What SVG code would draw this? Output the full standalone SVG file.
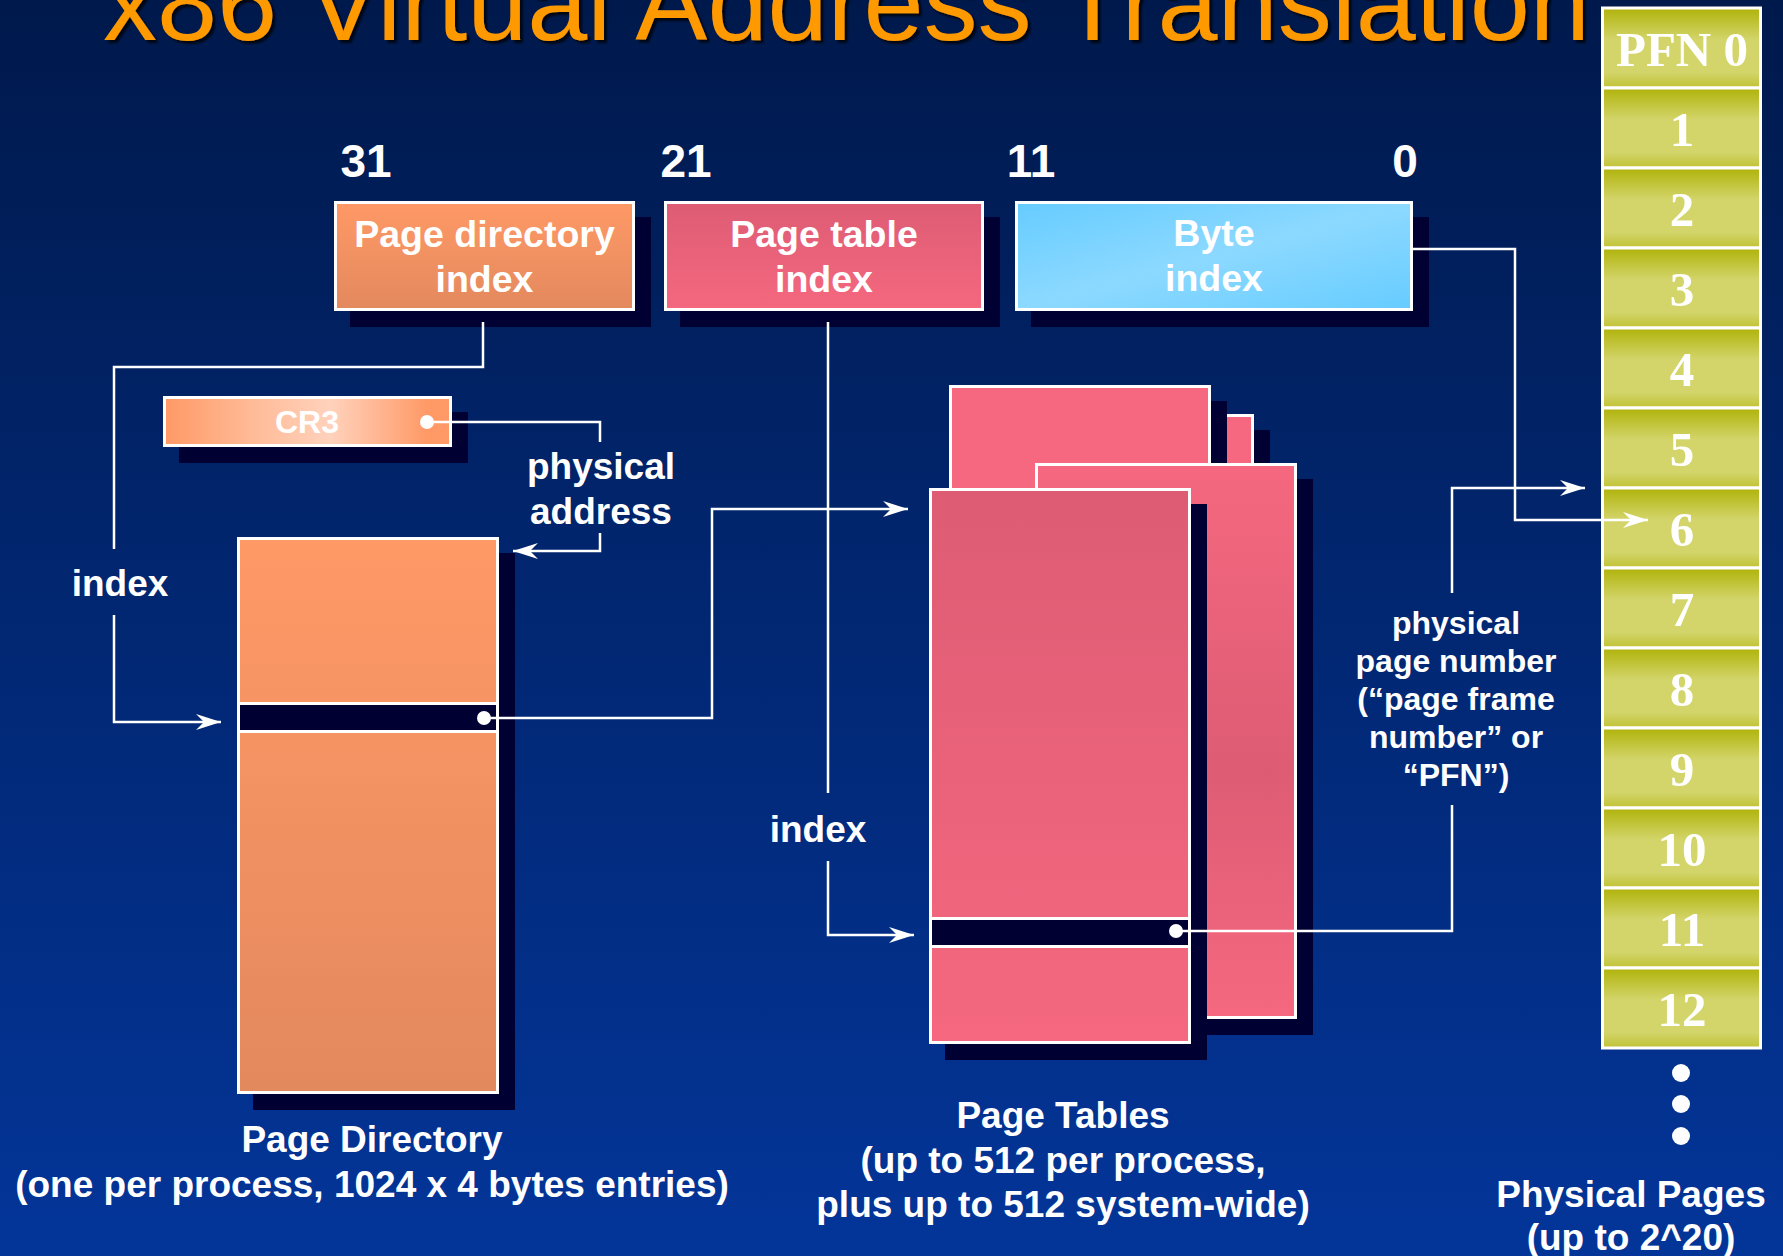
<svg xmlns="http://www.w3.org/2000/svg" width="1783" height="1256" viewBox="0 0 1783 1256">
  <defs>
    <linearGradient id="bg" x1="0" y1="0" x2="0" y2="1">
      <stop offset="0" stop-color="#00194C"/>
      <stop offset="1" stop-color="#033599"/>
    </linearGradient>
    <linearGradient id="orange" x1="0" y1="0" x2="0" y2="1">
      <stop offset="0" stop-color="#FF9966"/>
      <stop offset="1" stop-color="#E3895E"/>
    </linearGradient>
    <linearGradient id="cr3" x1="0" y1="0" x2="1" y2="0">
      <stop offset="0" stop-color="#FF9966"/>
      <stop offset="0.3" stop-color="#FFBA96"/>
      <stop offset="0.58" stop-color="#FFD2BC"/>
      <stop offset="0.92" stop-color="#FF9966"/>
      <stop offset="1" stop-color="#FF9966"/>
    </linearGradient>
    <linearGradient id="pinkUp" x1="0" y1="0" x2="0" y2="1">
      <stop offset="0" stop-color="#DD5C74"/>
      <stop offset="1" stop-color="#F5687F"/>
    </linearGradient>
    <linearGradient id="pinkMid" x1="0" y1="0" x2="0" y2="1">
      <stop offset="0" stop-color="#F5687F"/>
      <stop offset="0.55" stop-color="#DD5C74"/>
      <stop offset="1" stop-color="#F5687F"/>
    </linearGradient>
    <linearGradient id="blue" x1="0" y1="0" x2="1" y2="1">
      <stop offset="0" stop-color="#66CCFF"/>
      <stop offset="0.5" stop-color="#8CD9FF"/>
      <stop offset="1" stop-color="#66CCFF"/>
    </linearGradient>
    <linearGradient id="olive" x1="0" y1="0" x2="0" y2="1">
      <stop offset="0" stop-color="#B0B30A"/>
      <stop offset="0.4" stop-color="#D3D56B"/>
      <stop offset="0.8" stop-color="#D3D56B"/>
      <stop offset="1" stop-color="#C0C236"/>
    </linearGradient>
    <filter id="titleShadow" x="-5%" y="-20%" width="110%" height="140%">
      <feDropShadow dx="3" dy="3" stdDeviation="1" flood-color="#000000" flood-opacity="0.75"/>
    </filter>
    <marker id="arrow" viewBox="-26 -9 27 18" refX="0" refY="0" markerWidth="27" markerHeight="18" markerUnits="userSpaceOnUse" orient="auto">
      <path d="M0 0 L-25 -8 L-17 0 L-25 8 Z" fill="#FFFFFF"/>
    </marker>
    <style>
      .shadow { fill: #000033; stroke: #000033; stroke-width: 3; }
      .box { stroke: #FFFFFF; stroke-width: 3; }
      .band { fill: #000033; stroke: #FFFFFF; stroke-width: 3; }
      .lbl { font-family: "Liberation Sans", Arial, sans-serif; font-weight: bold; fill: #FFFFFF; text-anchor: middle; }
      .pfn { font-family: "Liberation Serif", "Times New Roman", serif; font-weight: bold; font-size: 49px; fill: #FFFFFF; text-anchor: middle; }
      .cell { fill: url(#olive); stroke: #FFFFFF; stroke-width: 3; }
      .wire { fill: none; stroke: #FFFFFF; stroke-width: 2.5; }
      .arr { marker-end: url(#arrow); }
      .dot { fill: #FFFFFF; }
    </style>
  </defs>

  <rect x="0" y="0" width="1783" height="1256" fill="url(#bg)"/>

  <text x="103" y="40" font-family="Liberation Sans, Arial, sans-serif" font-size="108" fill="#FF9900" filter="url(#titleShadow)">x86 Virtual Address Translation</text>

  <!-- bit positions -->
  <g id="bits" class="lbl" font-size="46">
    <text x="366" y="177">31</text>
    <text x="686" y="177">21</text>
    <text x="1031" y="177">11</text>
    <text x="1405" y="177">0</text>
  </g>

  <!-- virtual address fields -->
  <g id="pd-index">
    <rect class="shadow" x="351.5" y="218.5" width="298" height="107"/>
    <rect class="box" x="335.5" y="202.5" width="298" height="107" fill="url(#orange)"/>
    <text class="lbl" font-size="37.5" x="484.5" y="247">Page directory</text>
    <text class="lbl" font-size="37.5" x="484.5" y="292">index</text>
  </g>
  <g id="pt-index">
    <rect class="shadow" x="681.5" y="218.5" width="317" height="107"/>
    <rect class="box" x="665.5" y="202.5" width="317" height="107" fill="url(#pinkUp)"/>
    <text class="lbl" font-size="37.5" x="824" y="247">Page table</text>
    <text class="lbl" font-size="37.5" x="824" y="292">index</text>
  </g>
  <g id="byte-index">
    <rect class="shadow" x="1032.5" y="218.5" width="395" height="107"/>
    <rect class="box" x="1016.5" y="202.5" width="395" height="107" fill="url(#blue)"/>
    <text class="lbl" font-size="37.5" x="1214" y="246">Byte</text>
    <text class="lbl" font-size="37.5" x="1214" y="291">index</text>
  </g>

  <!-- CR3 register -->
  <g id="cr3-reg">
    <rect class="shadow" x="180.5" y="413.5" width="286" height="48"/>
    <rect class="box" x="164.5" y="397.5" width="286" height="48" fill="url(#cr3)"/>
    <text class="lbl" font-size="32" x="307" y="433">CR3</text>
  </g>

  <!-- page directory -->
  <g id="page-directory">
    <rect class="shadow" x="254.5" y="554.5" width="259" height="554"/>
    <rect class="box" x="238.5" y="538.5" width="259" height="554" fill="url(#orange)"/>
    <rect class="band" x="238.5" y="703.5" width="259" height="28"/>
    <text class="lbl" font-size="37" x="372" y="1152">Page Directory</text>
    <text class="lbl" font-size="37" x="372" y="1197">(one per process, 1024 x 4 bytes entries)</text>
  </g>

  <!-- page tables, back to front -->
  <g id="page-tables">
    <rect class="shadow" x="1009.5" y="431.5" width="259" height="553"/>
    <rect class="box" x="993.5" y="415.5" width="259" height="553" fill="#F5687F"/>
    <rect class="shadow" x="966.5" y="402.5" width="259" height="553"/>
    <rect class="box" x="950.5" y="386.5" width="259" height="553" fill="#F5687F"/>
    <rect class="shadow" x="1052.5" y="480.5" width="259" height="553"/>
    <rect class="box" x="1036.5" y="464.5" width="259" height="553" fill="url(#pinkMid)"/>
    <rect class="shadow" x="946.5" y="505.5" width="259" height="553"/>
    <rect class="box" x="930.5" y="489.5" width="259" height="553" fill="url(#pinkUp)"/>
    <rect class="band" x="930.5" y="918.5" width="259" height="28"/>
    <text class="lbl" font-size="37" x="1063" y="1128">Page Tables</text>
    <text class="lbl" font-size="37" x="1063" y="1173">(up to 512 per process,</text>
    <text class="lbl" font-size="37" x="1063" y="1217">plus up to 512 system-wide)</text>
  </g>

  <!-- physical page frames -->
  <g id="physical-pages">
    <rect class="cell" x="1602.5" y="8" width="158" height="80"/>
    <rect class="cell" x="1602.5" y="88" width="158" height="80"/>
    <rect class="cell" x="1602.5" y="168" width="158" height="80"/>
    <rect class="cell" x="1602.5" y="248" width="158" height="80"/>
    <rect class="cell" x="1602.5" y="328" width="158" height="80"/>
    <rect class="cell" x="1602.5" y="408" width="158" height="80"/>
    <rect class="cell" x="1602.5" y="488" width="158" height="80"/>
    <rect class="cell" x="1602.5" y="568" width="158" height="80"/>
    <rect class="cell" x="1602.5" y="648" width="158" height="80"/>
    <rect class="cell" x="1602.5" y="728" width="158" height="80"/>
    <rect class="cell" x="1602.5" y="808" width="158" height="80"/>
    <rect class="cell" x="1602.5" y="888" width="158" height="80"/>
    <rect class="cell" x="1602.5" y="968" width="158" height="80"/>
    <text class="pfn" x="1682" y="66">PFN 0</text>
    <text class="pfn" x="1682" y="146">1</text>
    <text class="pfn" x="1682" y="226">2</text>
    <text class="pfn" x="1682" y="306">3</text>
    <text class="pfn" x="1682" y="386">4</text>
    <text class="pfn" x="1682" y="466">5</text>
    <text class="pfn" x="1682" y="546">6</text>
    <text class="pfn" x="1682" y="626">7</text>
    <text class="pfn" x="1682" y="706">8</text>
    <text class="pfn" x="1682" y="786">9</text>
    <text class="pfn" x="1682" y="866">10</text>
    <text class="pfn" x="1682" y="946">11</text>
    <text class="pfn" x="1682" y="1026">12</text>
    <circle class="dot" cx="1681" cy="1073" r="9"/>
    <circle class="dot" cx="1681" cy="1104" r="9"/>
    <circle class="dot" cx="1681" cy="1136" r="9"/>
    <text class="lbl" font-size="37" x="1631" y="1207">Physical Pages</text>
    <text class="lbl" font-size="37" x="1631" y="1250">(up to 2^20)</text>
  </g>

  <!-- connectors -->
  <g id="connectors">
    <path class="wire" d="M483 322 V367 H114 V549"/>
    <path class="wire arr" d="M114 615 V722 H221"/>
    <text class="lbl" font-size="37" x="120" y="596">index</text>

    <circle class="dot" cx="427" cy="422" r="7"/>
    <path class="wire" d="M427 422 H600 V442"/>
    <path class="wire arr" d="M600 533 V551 H513"/>
    <text class="lbl" font-size="37" x="601" y="479">physical</text>
    <text class="lbl" font-size="37" x="601" y="524">address</text>

    <circle class="dot" cx="484" cy="718" r="7"/>
    <path class="wire arr" d="M484 718 H712 V509 H908"/>

    <path class="wire" d="M828 322 V793"/>
    <path class="wire arr" d="M828 861 V935 H914"/>
    <text class="lbl" font-size="37" x="818" y="842">index</text>

    <circle class="dot" cx="1176" cy="931" r="7"/>
    <path class="wire" d="M1176 931 H1452 V805"/>
    <path class="wire arr" d="M1452 593 V488 H1585"/>
    <text class="lbl" font-size="32" x="1456" y="634">physical</text>
    <text class="lbl" font-size="32" x="1456" y="672">page number</text>
    <text class="lbl" font-size="32" x="1456" y="710">(“page frame</text>
    <text class="lbl" font-size="32" x="1456" y="748">number” or</text>
    <text class="lbl" font-size="32" x="1456" y="786">“PFN”)</text>

    <path class="wire arr" d="M1413 249 H1515 V520 H1648"/>
  </g>
</svg>
